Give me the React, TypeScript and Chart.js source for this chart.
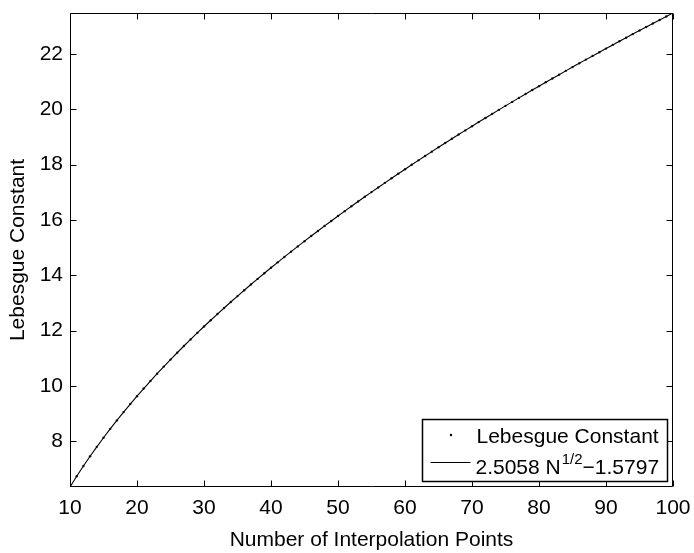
import React, { useEffect, useRef } from "react";
import { Chart, registerables } from "chart.js";

Chart.register(...registerables);

// Number of interpolation points
const nPoints = [
  10, 11, 12, 13, 14, 15, 16, 17, 18, 19,
  20, 21, 22, 23, 24, 25, 26, 27, 28, 29,
  30, 31, 32, 33, 34, 35, 36, 37, 38, 39,
  40, 41, 42, 43, 44, 45, 46, 47, 48, 49,
  50, 51, 52, 53, 54, 55, 56, 57, 58, 59,
  60, 61, 62, 63, 64, 65, 66, 67, 68, 69,
  70, 71, 72, 73, 74, 75, 76, 77, 78, 79,
  80, 81, 82, 83, 84, 85, 86, 87, 88, 89,
  90, 91, 92, 93, 94, 95, 96, 97, 98, 99,
  100,
];

// Lebesgue constant (dots)
const lebesgueConstant = [
  6.344, 6.731, 7.101, 7.455, 7.796, 8.125, 8.444, 8.752, 9.052, 9.343,
  9.627, 9.903, 10.174, 10.438, 10.696, 10.949, 11.197, 11.441, 11.680, 11.914,
  12.145, 12.372, 12.595, 12.815, 13.031, 13.245, 13.455, 13.663, 13.867, 14.069,
  14.268, 14.465, 14.660, 14.852, 15.042, 15.230, 15.416, 15.599, 15.781, 15.961,
  16.139, 16.315, 16.490, 16.663, 16.834, 17.004, 17.172, 17.339, 17.504, 17.668,
  17.830, 17.991, 18.151, 18.309, 18.467, 18.623, 18.778, 18.931, 19.084, 19.235,
  19.385, 19.535, 19.683, 19.830, 19.976, 20.121, 20.265, 20.409, 20.551, 20.692,
  20.833, 20.973, 21.111, 21.249, 21.386, 21.523, 21.658, 21.793, 21.927, 22.060,
  22.192, 22.324, 22.455, 22.585, 22.715, 22.844, 22.972, 23.100, 23.226, 23.353,
  23.478,
];

// Fitted curve 2.5058 N^(1/2) - 1.5797 (solid line)
const fitCurve = [
  6.344, 6.731, 7.101, 7.455, 7.796, 8.125, 8.444, 8.752, 9.052, 9.343,
  9.627, 9.903, 10.174, 10.438, 10.696, 10.949, 11.197, 11.441, 11.680, 11.914,
  12.145, 12.372, 12.595, 12.815, 13.031, 13.245, 13.455, 13.663, 13.867, 14.069,
  14.268, 14.465, 14.660, 14.852, 15.042, 15.230, 15.416, 15.599, 15.781, 15.961,
  16.139, 16.315, 16.490, 16.663, 16.834, 17.004, 17.172, 17.339, 17.504, 17.668,
  17.830, 17.991, 18.151, 18.309, 18.467, 18.623, 18.778, 18.931, 19.084, 19.235,
  19.385, 19.535, 19.683, 19.830, 19.976, 20.121, 20.265, 20.409, 20.551, 20.692,
  20.833, 20.973, 21.111, 21.249, 21.386, 21.523, 21.658, 21.793, 21.927, 22.060,
  22.192, 22.324, 22.455, 22.585, 22.715, 22.844, 22.972, 23.100, 23.226, 23.353,
  23.478,
];

const xTicks = [10, 20, 30, 40, 50, 60, 70, 80, 90, 100];
const yTicks = [8, 10, 12, 14, 16, 18, 20, 22];
const xRange = [10, 100];
const yRange = [6.344, 23.478];

const legendLabels = ["Lebesgue Constant", "2.5058 N", "1/2", "\u22121.5797"];
const xTitle = "Number of Interpolation Points";
const yTitle = "Lebesgue Constant";

const FONT = "'Liberation Sans', Arial, Helvetica, sans-serif";

const framePlugin = {
  id: "matlabFrame",
  afterDatasetsDraw(chart: any) {
    const { ctx, chartArea: a, scales } = chart;
    const x = scales.x;
    const y = scales.y;
    const L = Math.round(a.left) + 0.5;
    const R = Math.round(a.right) - 0.5;
    const T = Math.round(a.top) + 0.5;
    const B = Math.round(a.bottom) - 0.5;
    const tl = 6;
    ctx.save();
    ctx.strokeStyle = "#000";
    ctx.lineWidth = 1;
    ctx.beginPath();
    ctx.rect(L, T, R - L, B - T);
    for (const t of x.ticks) {
      const px = Math.round(x.getPixelForValue(t.value)) + 0.5;
      ctx.moveTo(px, B);
      ctx.lineTo(px, B - tl);
      ctx.moveTo(px, T);
      ctx.lineTo(px, T + tl);
    }
    for (const t of y.ticks) {
      const py = Math.round(y.getPixelForValue(t.value)) + 0.5;
      ctx.moveTo(L, py);
      ctx.lineTo(L + tl, py);
      ctx.moveTo(R, py);
      ctx.lineTo(R - tl, py);
    }
    ctx.stroke();

    // Legend box (bottom-right, inside axes)
    const bw = 245;
    const bh = 62;
    const bx = Math.round(a.right) - 6 - bw + 0.5;
    const by = Math.round(a.bottom) - 6 - bh + 0.5;
    ctx.fillStyle = "#fff";
    ctx.fillRect(bx, by, bw, bh);
    ctx.lineWidth = 1.5;
    ctx.strokeRect(bx, by, bw, bh);

    // entry 1: dot
    ctx.fillStyle = "#000";
    ctx.beginPath();
    ctx.arc(bx + 28.5, by + 15.5, 1.2, 0, Math.PI * 2);
    ctx.fill();
    ctx.font = `21px ${FONT}`;
    ctx.textBaseline = "alphabetic";
    ctx.textAlign = "left";
    ctx.fillText(legendLabels[0], bx + 54, by + 23);

    // entry 2: line
    ctx.lineWidth = 1;
    ctx.beginPath();
    ctx.moveTo(bx + 8, by + 43);
    ctx.lineTo(bx + 48, by + 43);
    ctx.stroke();
    let tx = bx + 53;
    const base2 = by + 54;
    ctx.fillText(legendLabels[1], tx, base2);
    tx += ctx.measureText(legendLabels[1]).width + 1;
    ctx.font = `15px ${FONT}`;
    ctx.fillText(legendLabels[2], tx, base2 - 10);
    tx += ctx.measureText(legendLabels[2]).width;
    ctx.font = `21px ${FONT}`;
    ctx.fillText(legendLabels[3], tx, base2);
    ctx.restore();
  },
};

export default function App() {
  const ref = useRef<HTMLCanvasElement | null>(null);

  useEffect(() => {
    if (!ref.current) return;
    const chart = new Chart(ref.current, {
      type: "scatter",
      data: {
        datasets: [
          {
            label: "fit",
            data: nPoints.map((n, i) => ({ x: n, y: fitCurve[i] })),
            showLine: true,
            borderColor: "#000",
            borderWidth: 1.1,
            pointRadius: 0,
            fill: false,
            tension: 0,
          },
          {
            label: "Lebesgue Constant",
            data: nPoints.map((n, i) => ({ x: n, y: lebesgueConstant[i] })),
            showLine: false,
            pointRadius: 1.2,
            pointBackgroundColor: "#222",
            pointBorderWidth: 0,
            borderColor: "#222",
          },
        ],
      },
      options: {
        responsive: false,
        animation: false,
        layout: { padding: { top: 13, right: 21, bottom: 0, left: 0 } },
        plugins: { legend: { display: false }, tooltip: { enabled: false } },
        scales: {
          x: {
            type: "linear",
            min: xRange[0],
            max: xRange[1],
            afterBuildTicks: (s: any) => {
              s.ticks = xTicks.map((v) => ({ value: v }));
            },
            afterFit: (s: any) => {
              s.height = 66;
              s.paddingLeft = 0;
              s.paddingRight = 0;
            },
            grid: { display: false, drawTicks: false },
            border: { display: false },
            ticks: {
              padding: 9,
              color: "#000",
              font: { family: FONT, size: 21 },
              maxRotation: 0,
              autoSkip: false,
            },
            title: {
              display: true,
              text: xTitle,
              color: "#000",
              font: { family: FONT, size: 21, lineHeight: 1 },
              padding: { top: 0, bottom: 2 },
            },
          },
          y: {
            type: "linear",
            min: yRange[0],
            max: yRange[1],
            afterBuildTicks: (s: any) => {
              s.ticks = yTicks.map((v) => ({ value: v }));
            },
            afterFit: (s: any) => {
              s.width = 70;
              s.paddingTop = 0;
              s.paddingBottom = 0;
            },
            grid: { display: false, drawTicks: false },
            border: { display: false },
            ticks: {
              padding: 7,
              color: "#000",
              font: { family: FONT, size: 21 },
              autoSkip: false,
            },
            title: {
              display: true,
              text: yTitle,
              color: "#000",
              font: { family: FONT, size: 21, lineHeight: 1 },
              padding: { top: 8, bottom: 0 },
            },
          },
        },
      },
      plugins: [framePlugin],
    });
    return () => chart.destroy();
  }, []);

  return (
    <div style={{ position: "fixed", left: 0, top: 0, width: 694, height: 553, background: "#fff" }}>
      <canvas ref={ref} width={694} height={553} style={{ display: "block" }} />
    </div>
  );
}
